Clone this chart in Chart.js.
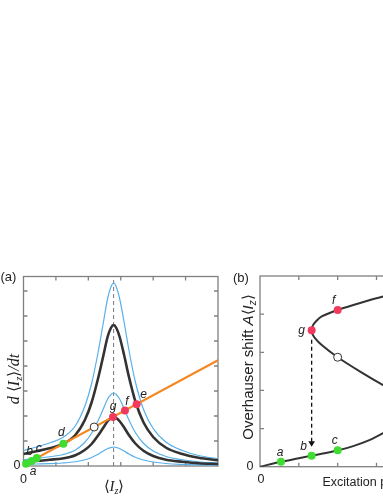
<!DOCTYPE html>
<html>
<head>
<meta charset="utf-8">
<script src="https://cdn.jsdelivr.net/npm/chart.js@4.4.1/dist/chart.umd.min.js"></script>
<style>
html, body { margin: 0; padding: 0; background: #fff; width: 383px; height: 496px; overflow: hidden; }
body { position: relative; }
.panel { position: absolute; top: 250px; height: 246px; }
#wrapA { left: 0; width: 228px; }
#wrapB { left: 226px; width: 300px; }
</style>
</head>
<body>
<div class="panel" id="wrapA"><canvas id="chartA"></canvas></div>
<div class="panel" id="wrapB"><canvas id="chartB"></canvas></div>
<script>
// ---- panel (a): d<Iz>/dt against <Iz> ----
const curveX   = [0, 0.4, 0.8, 1.2, 1.6, 1.9, 2.1, 2.3, 2.45, 2.6, 2.7, 2.78, 2.86, 2.96, 3.1, 3.25, 3.45, 3.7, 4.0, 4.4, 4.9, 5.4, 6.0];
const blueTop  = [0.62, 0.76, 0.92, 1.13, 1.61, 2.42, 3.29, 4.54, 5.64, 6.73, 7.17, 7.32, 7.17, 6.73, 5.78, 4.65, 3.37, 2.27, 1.50, 0.95, 0.62, 0.42, 0.29];
const blackTop = [0.48, 0.59, 0.71, 0.87, 1.24, 1.86, 2.54, 3.50, 4.34, 5.19, 5.53, 5.64, 5.53, 5.19, 4.46, 3.58, 2.59, 1.75, 1.16, 0.73, 0.48, 0.33, 0.23];
const blueMid  = [0.25, 0.30, 0.37, 0.45, 0.64, 0.96, 1.31, 1.81, 2.25, 2.69, 2.86, 2.92, 2.86, 2.69, 2.31, 1.85, 1.34, 0.91, 0.60, 0.38, 0.25, 0.17, 0.12];
const blackLow = [0.17, 0.20, 0.25, 0.30, 0.43, 0.65, 0.88, 1.22, 1.51, 1.80, 1.92, 1.96, 1.92, 1.80, 1.55, 1.24, 0.90, 0.61, 0.40, 0.25, 0.17, 0.11, 0.08];
const blueLow  = [0.065, 0.08, 0.095, 0.12, 0.17, 0.25, 0.34, 0.47, 0.59, 0.70, 0.74, 0.76, 0.74, 0.70, 0.60, 0.48, 0.35, 0.24, 0.16, 0.10, 0.065, 0.045, 0.03];
const lineX = [0, 6];
const lineY = [0.03, 4.23];
const peakX = 2.78;
const lowX_a = [0.08, 0.25, 0.41, 1.23];
const lowY_a = [0.09, 0.20, 0.32, 0.89];
const lowNames_a = ['a', 'b', 'c', 'd'];
const highX_a = [2.76, 3.13, 3.49];
const highY_a = [1.96, 2.22, 2.47];
const highNames_a = ['g', 'f', 'e'];
const unstX_a = [2.18];
const unstY_a = [1.56];
const xTicksA = [1, 2, 3, 4, 5];
const yTicksA = [1, 2, 3, 4, 5, 6, 7];

// ---- panel (b): Overhauser shift against excitation power ----
const sX = [0, 0.54, 1.0, 1.33, 1.7, 2.0, 2.4, 2.8, 3.17, 3.5, 3.8, 4.05, 3.8, 3.17, 2.6, 2.0, 1.59, 1.41, 1.34, 1.33, 1.36, 1.45, 1.59, 2.0, 2.6, 3.17, 3.8, 4.5];
const sY = [0, 0.13, 0.22, 0.29, 0.36, 0.43, 0.54, 0.69, 0.88, 1.08, 1.30, 1.55, 1.80, 2.14, 2.48, 2.87, 3.19, 3.38, 3.50, 3.58, 3.70, 3.82, 3.94, 4.11, 4.30, 4.46, 4.60, 4.72];
const lowX_b = [0.54, 1.33, 2.0];
const lowY_b = [0.13, 0.29, 0.43];
const lowNames_b = ['a', 'b', 'c'];
const highX_b = [1.33, 2.0];
const highY_b = [3.58, 4.11];
const highNames_b = ['g', 'f'];
const unstX_b = [2.0];
const unstY_b = [2.87];
const jumpX = [1.33, 1.33];
const jumpY = [3.33, 0.62];
const xTicksB = [1, 2, 3, 4, 5];
const yTicksB = [1, 2, 3, 4];

const GRAY = '#808080';
const INK = '#222';
const BLUE = '#58b0ea';
const DARK = '#333333';
const ORANGE = '#f5861f';
const GREEN = '#3fdc32';
const RED = '#f23a5c';
const SANS = '"Liberation Sans", Arial, sans-serif';
const SERIF = '"Liberation Serif", "Times New Roman", serif';

function pts(xs, ys) { return xs.map((x, i) => ({ x: x, y: ys[i] })); }

// centred mixed-font text, baseline at y
function drawRich(ctx, parts, x, y) {
    let w = 0;
    parts.forEach(p => { ctx.font = p.f; w += ctx.measureText(p.t).width; });
    let cx = x - w / 2;
    ctx.textAlign = 'left';
    ctx.textBaseline = 'alphabetic';
    parts.forEach(p => {
        ctx.font = p.f;
        ctx.fillText(p.t, cx, y + (p.dy || 0));
        cx += ctx.measureText(p.t).width;
    });
}

function framePlugin(xTicks, yTicks) {
    return {
        id: 'frame',
        beforeDatasetsDraw(chart) {
            const { ctx, chartArea: a, scales } = chart;
            ctx.save();
            ctx.strokeStyle = GRAY;
            ctx.lineWidth = 1.3;
            ctx.strokeRect(a.left, a.top, a.right - a.left, a.bottom - a.top);
            ctx.beginPath();
            xTicks.forEach(v => {
                const px = scales.x.getPixelForValue(v);
                ctx.moveTo(px, a.bottom); ctx.lineTo(px, a.bottom - 4);
                ctx.moveTo(px, a.top); ctx.lineTo(px, a.top + 4);
            });
            yTicks.forEach(v => {
                const py = scales.y.getPixelForValue(v);
                ctx.moveTo(a.left, py); ctx.lineTo(a.left + 4, py);
                ctx.moveTo(a.right, py); ctx.lineTo(a.right - 4, py);
            });
            ctx.stroke();
            ctx.restore();
        }
    };
}

function namesPlugin(groups, extra) {
    return {
        id: 'names',
        afterDatasetsDraw(chart) {
            const { ctx, scales } = chart;
            ctx.save();
            ctx.fillStyle = INK;
            ctx.font = 'italic 12px ' + SANS;
            ctx.textAlign = 'center';
            ctx.textBaseline = 'middle';
            groups.forEach(g => {
                g.names.forEach((n, i) => {
                    ctx.fillText(n,
                        scales.x.getPixelForValue(g.xs[i]) + g.off[i][0],
                        scales.y.getPixelForValue(g.ys[i]) + g.off[i][1]);
                });
            });
            extra(ctx);
            ctx.restore();
        }
    };
}

function baseOptions(xMax, yMax, pad) {
    return {
        responsive: true,
        maintainAspectRatio: false,
        animation: false,
        events: [],
        layout: { padding: pad },
        plugins: { legend: { display: false }, tooltip: { enabled: false } },
        scales: {
            x: { type: 'linear', min: 0, max: xMax, display: false },
            y: { type: 'linear', min: 0, max: yMax, display: false }
        }
    };
}

function curve(ys, color, width, order) {
    return {
        data: pts(curveX, ys), showLine: true, borderColor: color, borderWidth: width,
        pointRadius: 0, cubicInterpolationMode: 'monotone', order: order
    };
}

function dots(xs, ys, fill, border, order) {
    return {
        data: pts(xs, ys), showLine: false, pointRadius: 4,
        pointBackgroundColor: fill, pointBorderColor: border || fill,
        pointBorderWidth: border ? 1 : 0, clip: false, order: order
    };
}

// ---- chart (a) ----
const yMaxA = 7.58;
new Chart(document.getElementById('chartA'), {
    type: 'scatter',
    data: {
        datasets: [
            dots(lowX_a, lowY_a, GREEN, null, 0),
            dots(highX_a, highY_a, RED, null, 0),
            dots(unstX_a, unstY_a, '#fff', DARK, 0),
            { data: pts(lineX, lineY), showLine: true, borderColor: ORANGE, borderWidth: 2, pointRadius: 0, order: 1 },
            curve(blackTop, DARK, 2.6, 2),
            curve(blackLow, DARK, 2.6, 2),
            curve(blueTop, BLUE, 1.2, 3),
            curve(blueMid, BLUE, 1.2, 3),
            curve(blueLow, BLUE, 1.2, 3),
            { data: [{ x: peakX, y: 0 }, { x: peakX, y: yMaxA }], showLine: true, borderColor: '#777',
              borderWidth: 1, borderDash: [4, 3], pointRadius: 0, order: 5 }
        ]
    },
    options: baseOptions(6, yMaxA, { left: 23.5, right: 10, top: 26.5, bottom: 30 }),
    plugins: [
        framePlugin(xTicksA, yTicksA),
        namesPlugin([
            { names: lowNames_a, xs: lowX_a, ys: lowY_a, off: [[7, 8], [-2, -9], [2, -9], [-2, -11]] },
            { names: highNames_a, xs: highX_a, ys: highY_a, off: [[0, -10], [2, -9], [7, -10]] }
        ], function (ctx) {
            ctx.fillStyle = INK;
            ctx.textBaseline = 'middle';
            ctx.font = '13px ' + SANS;
            ctx.textAlign = 'left';
            ctx.fillText('(a)', 0.5, 27);
            ctx.font = '12.5px ' + SANS;
            ctx.textAlign = 'right';
            ctx.fillText('0', 20.5, 216);
            ctx.textAlign = 'center';
            ctx.fillText('0', 23.5, 229.5);
            drawRich(ctx, [
                { t: '\u27E8', f: '15px ' + SERIF },
                { t: 'I', f: 'italic 15px ' + SERIF },
                { t: 'z', f: 'italic 10px ' + SERIF, dy: 3 },
                { t: '\u27E9', f: '15px ' + SERIF }
            ], 114, 241);
            ctx.save();
            ctx.translate(18.5, 129);
            ctx.rotate(-Math.PI / 2);
            drawRich(ctx, [
                { t: 'd ', f: 'italic 16px ' + SERIF },
                { t: '\u27E8', f: '16px ' + SERIF },
                { t: 'I', f: 'italic 16px ' + SERIF },
                { t: 'z', f: 'italic 10.5px ' + SERIF, dy: 3 },
                { t: '\u27E9', f: '16px ' + SERIF },
                { t: '/dt', f: 'italic 16px ' + SERIF }
            ], 0, 0);
            ctx.restore();
        })
    ]
});

// ---- chart (b) ----
new Chart(document.getElementById('chartB'), {
    type: 'scatter',
    data: {
        datasets: [
            dots(lowX_b, lowY_b, GREEN, null, 0),
            dots(highX_b, highY_b, RED, null, 0),
            dots(unstX_b, unstY_b, '#fff', DARK, 0),
            { data: pts(sX, sY), showLine: true, borderColor: DARK, borderWidth: 2, pointRadius: 0, tension: 0.3, order: 2 },
            { data: pts(jumpX, jumpY), showLine: true, borderColor: '#111', borderWidth: 1.3, borderDash: [4, 3],
              pointRadius: [0, 3.8], pointStyle: 'triangle', rotation: 180,
              pointBackgroundColor: '#111', pointBorderWidth: 0, order: 1 }
        ]
    },
    options: baseOptions(6, 5, { left: 34, right: 33, top: 26, bottom: 29.3 }),
    plugins: [
        framePlugin(xTicksB, yTicksB),
        namesPlugin([
            { names: lowNames_b, xs: lowX_b, ys: lowY_b, off: [[-1, -9], [-8, -9], [-3, -10]] },
            { names: highNames_b, xs: highX_b, ys: highY_b, off: [[-10, 0], [-4, -9]] }
        ], function (ctx) {
            ctx.fillStyle = INK;
            ctx.textBaseline = 'middle';
            ctx.font = '13px ' + SANS;
            ctx.textAlign = 'left';
            ctx.fillText('(b)', 7, 28);
            ctx.font = '12.5px ' + SANS;
            ctx.textAlign = 'right';
            ctx.fillText('0', 27.5, 217);
            ctx.textAlign = 'center';
            ctx.fillText('0', 35, 229.5);
            ctx.textAlign = 'left';
            ctx.textBaseline = 'alphabetic';
            ctx.fillText('Excitation power', 96.5, 235.5);
            ctx.save();
            ctx.translate(26.5, 117);
            ctx.rotate(-Math.PI / 2);
            drawRich(ctx, [
                { t: 'Overhauser shift ', f: '15px ' + SANS },
                { t: 'A', f: 'italic 15px ' + SANS },
                { t: '\u27E8', f: '15px ' + SANS },
                { t: 'I', f: 'italic 15px ' + SANS },
                { t: 'z', f: 'italic 10px ' + SANS, dy: 3 },
                { t: '\u27E9', f: '15px ' + SANS }
            ], 0, 0);
            ctx.restore();
        })
    ]
});
</script>
</body>
</html>
